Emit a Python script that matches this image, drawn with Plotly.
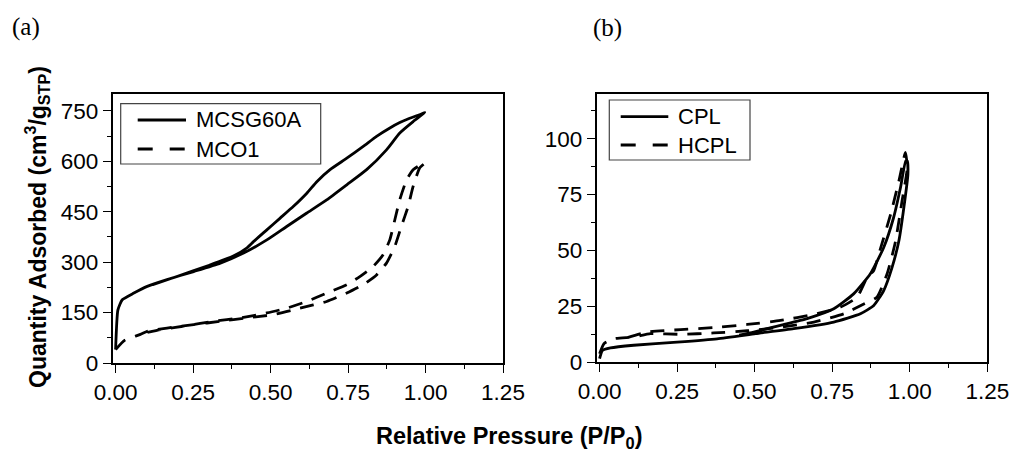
import plotly.graph_objects as go
from plotly.subplots import make_subplots

# ---------------- data ----------------
# (a) MCSG60A : adsorption branch then desorption branch
mcsg_ads_p = [0.000, 0.0075, 0.0215, 0.059, 0.102, 0.166, 0.252, 0.338, 0.413, 0.488,
              0.552, 0.617, 0.681, 0.746, 0.810, 0.874, 0.917, 0.960, 0.998]
mcsg_ads_q = [40, 158, 188, 208, 228, 248, 272, 297, 327, 366,
              406, 446, 485, 530, 575, 634, 684, 718, 745]
mcsg_des_p = [0.985, 0.949, 0.917, 0.885, 0.842, 0.799, 0.746, 0.692, 0.650, 0.617,
              0.574, 0.531, 0.488, 0.445, 0.423, 0.380, 0.300, 0.200, 0.120]
mcsg_des_q = [740, 728, 715, 699, 674, 644, 609, 575, 540, 505,
              466, 431, 396, 361, 342, 318, 290, 258, 233]

# (a) MCO1
mco_ads_p = [0.000, 0.030, 0.080, 0.102, 0.166, 0.252, 0.338, 0.423, 0.509, 0.595,
             0.681, 0.746, 0.799, 0.842, 0.874, 0.901, 0.922, 0.944, 0.960, 0.981, 0.998]
mco_ads_q = [40, 68, 85, 94, 104, 114, 124, 134, 144, 163,
             183, 208, 233, 262, 297, 347, 406, 466, 525, 580, 595]
mco_des_p = [0.985, 0.960, 0.939, 0.917, 0.901, 0.885, 0.863, 0.831, 0.788, 0.746,
             0.681, 0.617, 0.552, 0.488, 0.402, 0.316, 0.230, 0.145, 0.091]
mco_des_q = [590, 575, 545, 486, 426, 367, 322, 287, 257, 233,
             208, 183, 163, 149, 134, 124, 111, 99, 89]

# (b) CPL
cpl_ads_p = [0.000, 0.009, 0.035, 0.110, 0.250, 0.379, 0.503, 0.626, 0.755, 0.841,
             0.884, 0.916, 0.943, 0.965, 0.981, 0.994, 0.992]
cpl_ads_q = [1.5, 5.2, 6.3, 7.5, 8.9, 10.4, 12.7, 14.9, 17.9, 21.6,
             25.3, 32.0, 42.4, 54.3, 69.2, 84.0, 90.0]
cpl_des_p = [0.987, 0.970, 0.948, 0.916, 0.873, 0.819, 0.755, 0.669, 0.583, 0.497, 0.450]
cpl_des_q = [90.0, 78.0, 64.7, 51.3, 39.5, 30.5, 23.8, 19.4, 16.4, 13.4, 12.0]

# (b) HCPL
hcpl_ads_p = [0.000, 0.014, 0.046, 0.110, 0.164, 0.261, 0.368, 0.476, 0.583, 0.691,
              0.788, 0.852, 0.894, 0.927, 0.954, 0.975, 0.992]
hcpl_ads_q = [3.7, 8.2, 10.4, 11.2, 12.7, 12.4, 13.0, 14.0, 15.6, 17.9,
              21.6, 26.0, 29.0, 39.5, 54.0, 72.0, 87.0]
hcpl_des_p = [0.986, 0.965, 0.938, 0.906, 0.884, 0.863, 0.830, 0.777, 0.691, 0.583,
              0.476, 0.368, 0.261, 0.154, 0.068]
hcpl_des_q = [93.8, 81.0, 66.0, 51.0, 41.0, 38.0, 29.0, 24.6, 21.3, 18.6,
              16.8, 15.4, 14.5, 13.4, 10.0]

x_ticks = [0.00, 0.25, 0.50, 0.75, 1.00, 1.25]
x_ticklabels = ["0.00", "0.25", "0.50", "0.75", "1.00", "1.25"]
ya_ticks = [0, 150, 300, 450, 600, 750]
yb_ticks = [0, 25, 50, 75, 100]

# ---------------- figure ----------------
W, H = 1012, 452
FONT = "Liberation Sans, Arial, sans-serif"
SERIF = "Liberation Serif, Times New Roman, serif"
LW = 2.8
DASH = "14px,10px"
TICKFONT = 22.5

fig = make_subplots(rows=1, cols=2)

line_kw = dict(color="black", width=LW, shape="spline", smoothing=0.5)
fig.add_trace(go.Scatter(x=mcsg_ads_p + mcsg_des_p, y=mcsg_ads_q + mcsg_des_q,
                         mode="lines", name="MCSG60A", line=line_kw), row=1, col=1)
fig.add_trace(go.Scatter(x=mco_ads_p + mco_des_p, y=mco_ads_q + mco_des_q,
                         mode="lines", name="MCO1", line=dict(line_kw, dash=DASH)), row=1, col=1)
fig.add_trace(go.Scatter(x=cpl_ads_p + cpl_des_p, y=cpl_ads_q + cpl_des_q,
                         mode="lines", name="CPL", line=line_kw), row=1, col=2)
fig.add_trace(go.Scatter(x=hcpl_ads_p + hcpl_des_p, y=hcpl_ads_q + hcpl_des_q,
                         mode="lines", name="HCPL", line=dict(line_kw, dash=DASH)), row=1, col=2)

def px(xp):
    return xp / W

def py(yp):
    return 1 - yp / H

axis_common = dict(showline=True, linecolor="black", linewidth=1.5, mirror=True,
                   ticks="outside", ticklen=8, tickwidth=1.3, tickcolor="black",
                   showgrid=False, zeroline=False, automargin=False,
                   tickfont=dict(family=FONT, size=TICKFONT, color="black"))

fig.update_xaxes(**axis_common, range=[-0.01, 1.25], tickvals=x_ticks, ticktext=x_ticklabels,
                 minor=dict(ticks="outside", ticklen=4, tickwidth=1.3, tickcolor="black", dtick=0.125,
                            tick0=0))
fig.update_xaxes(domain=[px(112.5), px(503)], row=1, col=1)
fig.update_xaxes(domain=[px(596.5), px(987.3)], row=1, col=2)

fig.update_yaxes(**axis_common)
fig.update_yaxes(range=[0, 800], tickvals=ya_ticks, domain=[py(363), py(94)],
                 minor=dict(ticks="outside", ticklen=4, tickwidth=1.3, tickcolor="black",
                            dtick=75, tick0=0), row=1, col=1)
fig.update_yaxes(range=[0, 120], tickvals=yb_ticks, domain=[py(362), py(94)],
                 minor=dict(ticks="outside", ticklen=4, tickwidth=1.3, tickcolor="black",
                            dtick=12.5, tick0=0), row=1, col=2)

shapes = []
annotations = []

def legend_box(x0, x1, y0, y1, items):
    shapes.append(dict(type="rect", xref="paper", yref="paper",
                       x0=px(x0), x1=px(x1), y0=py(y1), y1=py(y0),
                       line=dict(color="#444444", width=1.2), fillcolor="rgba(0,0,0,0)"))
    for (lx0, lx1, ly, tx, label, dash) in items:
        shapes.append(dict(type="line", xref="paper", yref="paper",
                           x0=px(lx0), x1=px(lx1), y0=py(ly), y1=py(ly),
                           line=dict(color="black", width=LW, dash=dash)))
        annotations.append(dict(text=label, xref="paper", yref="paper",
                                x=px(tx), y=py(ly), xanchor="left", yanchor="middle",
                                showarrow=False,
                                font=dict(family=FONT, size=22, color="black")))

legend_box(120.7, 320.7, 103.7, 164,
           [(137.7, 186, 120, 194, "MCSG60A", "solid"),
            (137.7, 186, 149, 194, "MCO1", "15px,17px")])
legend_box(609.3, 750, 100, 160,
           [(620.7, 668.3, 116.7, 676, "CPL", "solid"),
            (620.7, 668.3, 145, 676, "HCPL", "15px,17px")])

annotations.append(dict(text="(a)", xref="paper", yref="paper", x=px(10), y=py(27),
                        xanchor="left", yanchor="middle", showarrow=False,
                        font=dict(family=SERIF, size=25, color="black")))
annotations.append(dict(text="(b)", xref="paper", yref="paper", x=px(591), y=py(28),
                        xanchor="left", yanchor="middle", showarrow=False,
                        font=dict(family=SERIF, size=25, color="black")))
annotations.append(dict(text="<b>Quantity Adsorbed (cm<sup>3</sup>/g<sub>STP</sub>)</b>",
                        xref="paper", yref="paper", x=px(37), y=py(227),
                        xanchor="center", yanchor="middle", textangle=-90, showarrow=False,
                        font=dict(family=FONT, size=23, color="black")))
annotations.append(dict(text="<b>Relative Pressure (P/P<sub>0</sub>)</b>",
                        xref="paper", yref="paper", x=px(509), y=py(421),
                        xanchor="center", yanchor="top", showarrow=False,
                        font=dict(family=FONT, size=23.5, color="black")))

fig.update_layout(width=W, height=H, margin=dict(l=0, r=0, t=0, b=0, pad=0),
                  paper_bgcolor="white", plot_bgcolor="white", showlegend=False,
                  shapes=shapes, annotations=annotations)

fig.write_html("out.html")
